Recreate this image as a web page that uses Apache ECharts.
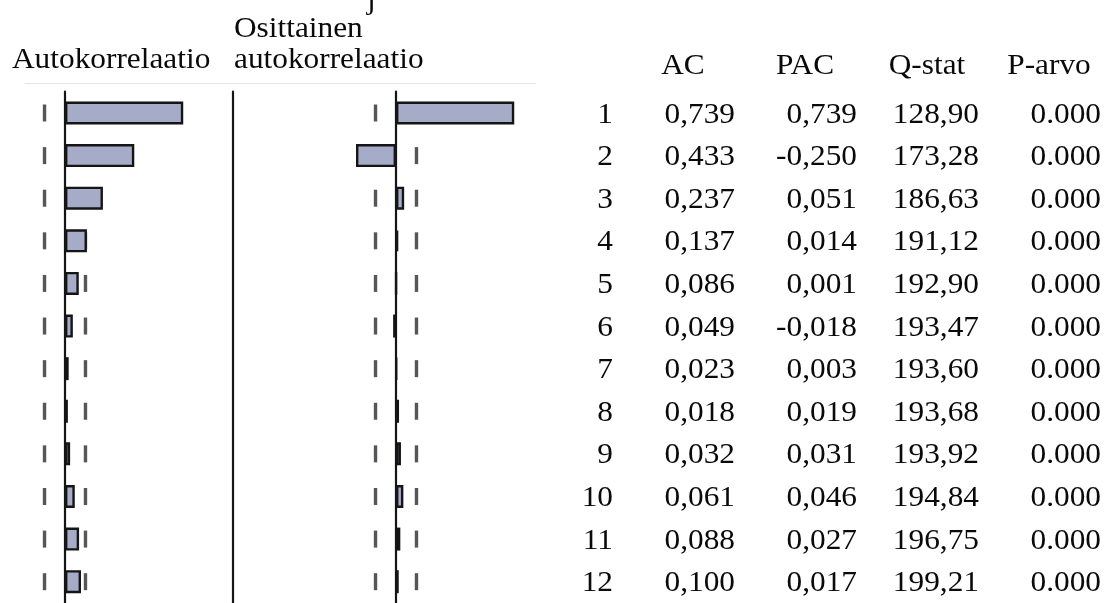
<!DOCTYPE html>
<html><head><meta charset="utf-8">
<script src="https://cdn.jsdelivr.net/npm/echarts@6/dist/echarts.min.js"></script>
<style>html,body{margin:0;padding:0;background:#fff}#c{width:1116px;height:603px}</style>
</head><body><div id="c"></div>
<script>
// ---- data ----
const lags = [1, 2, 3, 4, 5, 6, 7, 8, 9, 10, 11, 12];
const acValues = [0.739, 0.433, 0.237, 0.137, 0.086, 0.049, 0.023, 0.018, 0.032, 0.061, 0.088, 0.100];
const pacValues = [0.739, -0.250, 0.051, 0.014, 0.001, -0.018, 0.003, 0.019, 0.031, 0.046, 0.027, 0.017];
const qStat = [128.90, 173.28, 186.63, 191.12, 192.90, 193.47, 193.60, 193.68, 193.92, 194.84, 196.75, 199.21];
const pValues = [0.000, 0.000, 0.000, 0.000, 0.000, 0.000, 0.000, 0.000, 0.000, 0.000, 0.000, 0.000];
const confUpper = [0.128, 0.128, 0.128, 0.128, 0.128, 0.128, 0.128, 0.128, 0.128, 0.128, 0.128, 0.128];
const confLower = [-0.128, -0.128, -0.128, -0.128, -0.128, -0.128, -0.128, -0.128, -0.128, -0.128, -0.128, -0.128];
const columnHeaders = ['AC', 'PAC', 'Q-stat', 'P-arvo'];
const acfTitle = 'Autokorrelaatio';
const pacfTitle = ['Osittainen', 'autokorrelaatio'];
const clippedTitle = 'j';

// ---- helpers ----
const FONT = '29px "Liberation Serif", "Times New Roman", serif';
const SX = 1.08;
const INK = '#0a0a0a';
const commaFmt = (v, d) => v.toFixed(d).replace('.', ',');

const cells = [];
lags.forEach((lag, i) => {
  cells.push({ col: 0, row: lag, text: String(lag) });
  cells.push({ col: 1, row: lag, text: commaFmt(acValues[i], 3) });
  cells.push({ col: 2, row: lag, text: commaFmt(pacValues[i], 3) });
  cells.push({ col: 3, row: lag, text: commaFmt(qStat[i], 2) });
  cells.push({ col: 4, row: lag, text: pValues[i].toFixed(3) });
});
const headerCells = columnHeaders.map((h, j) => ({ col: j + 1, row: 0, text: h }));

const barStyle = { color: '#a6abc8', borderColor: '#151515', borderWidth: 2.4 };
const dashStyle = { color: '#2c2c2c' };

function confSeries(values, xi, yi) {
  return {
    type: 'scatter', xAxisIndex: xi, yAxisIndex: yi, silent: true, z: 1,
    symbol: 'rect', symbolSize: [3.4, 17], itemStyle: dashStyle,
    data: values.map((v, i) => [v, i])
  };
}

const TOP = 91.7, H = 511.3;
const chart = echarts.init(document.getElementById('c'), null, { renderer: 'canvas' });
const catY = (gi, extra) => Object.assign({
  gridIndex: gi, type: 'category', data: lags, inverse: true,
  axisTick: { show: false }, axisLabel: { show: false }, splitLine: { show: false },
  axisLine: { show: true, onZero: true, lineStyle: { color: '#151515', width: 2.2 } }
}, extra || {});
const topX = (gi, min, max) => ({
  gridIndex: gi, type: 'value', min: min, max: max, position: 'top', offset: 8,
  axisLine: { show: true, lineStyle: { color: '#e4e4e4', width: 1 } },
  axisTick: { show: false }, axisLabel: { show: false }, splitLine: { show: false }
});
const titleText = (x, y, text) => ({ type: 'text', x: x, y: y, scaleX: SX,
  style: { text: text, font: FONT, fill: INK, textAlign: 'left', textVerticalAlign: 'middle' } });

chart.setOption({
  animation: false,
  backgroundColor: '#ffffff',
  grid: [
    { left: 25, top: TOP, width: 208, height: H },
    { left: 233, top: TOP, width: 303, height: H },
    { left: 613, top: TOP, width: 488, height: H }
  ],
  xAxis: [
    topX(0, -0.25, 1.05),
    topX(1, -1.01875, 0.875),
    { gridIndex: 2, type: 'value', min: 0, max: 4, show: false }
  ],
  yAxis: [
    catY(0),
    catY(0, { position: 'right', axisLine: { show: true, onZero: false, lineStyle: { color: '#151515', width: 2.2 } } }),
    catY(1),
    { gridIndex: 2, type: 'value', min: 0.5, max: 12.5, inverse: true, show: false }
  ],
  graphic: [
    titleText(12, 60, acfTitle),
    titleText(234, 29.5, pacfTitle[0]),
    titleText(234, 60, pacfTitle[1]),
    titleText(367, 1, clippedTitle)
  ],
  series: [
    confSeries(confLower, 0, 0),
    confSeries(confUpper, 0, 0),
    { type: 'bar', xAxisIndex: 0, yAxisIndex: 0, data: acValues, barWidth: 23, z: 3, silent: true, itemStyle: barStyle },
    confSeries(confLower, 1, 2),
    confSeries(confUpper, 1, 2),
    { type: 'bar', xAxisIndex: 1, yAxisIndex: 2, data: pacValues, barWidth: 23, z: 3, silent: true, itemStyle: barStyle },
    {
      type: 'custom', xAxisIndex: 2, yAxisIndex: 3, silent: true, clip: false,
      data: cells.map(c => [c.col, c.row]),
      renderItem: function (params, api) {
        const c = cells[params.dataIndex];
        const p = api.coord([api.value(0), api.value(1)]);
        return { type: 'text', x: p[0], y: p[1] + 2, scaleX: SX,
          style: { text: c.text, font: FONT, fill: INK, align: 'right', verticalAlign: 'middle' } };
      }
    },
    {
      type: 'custom', xAxisIndex: 2, yAxisIndex: 3, silent: true, clip: false,
      data: headerCells.map(c => [c.col, c.row]),
      renderItem: function (params, api) {
        const c = headerCells[params.dataIndex];
        const p = api.coord([api.value(0), api.value(1)]);
        return { type: 'text', x: p[0] - 52, y: p[1] - 4, scaleX: SX,
          style: { text: c.text, font: FONT, fill: INK, align: 'center', verticalAlign: 'middle' } };
      }
    }
  ]
});
</script></body></html>
